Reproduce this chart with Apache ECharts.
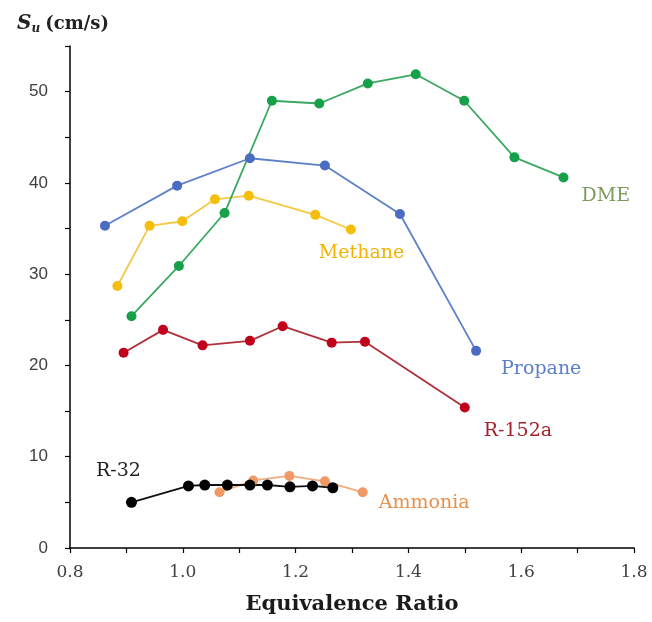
<!DOCTYPE html>
<html>
<head>
<meta charset="utf-8">
<script src="https://cdn.jsdelivr.net/npm/echarts@6/dist/echarts.min.js"></script>
<style>html,body{margin:0;padding:0;background:#fff}#c{width:652px;height:622px}</style>
</head>
<body>
<div id="c"></div>
<script>
// ---- data ----
const seriesNames = ['Methane', 'Propane', 'R-152a', 'Ammonia', 'R-32', 'DME'];
const methane = [[0.884,28.7],[0.941,35.3],[0.999,35.8],[1.057,38.2],[1.117,38.6],[1.235,36.5],[1.298,34.9]];
const propane = [[0.862,35.3],[0.990,39.7],[1.119,42.7],[1.252,41.9],[1.385,36.6],[1.520,21.6]];
const r152a = [[0.895,21.4],[0.965,23.9],[1.035,22.2],[1.119,22.7],[1.177,24.3],[1.264,22.5],[1.323,22.6],[1.500,15.4]];
const ammonia = [[1.065,6.1],[1.125,7.4],[1.189,7.9],[1.252,7.3],[1.319,6.1]];
const r32 = [[0.909,5.0],[1.010,6.8],[1.039,6.9],[1.079,6.9],[1.119,6.9],[1.150,6.9],[1.190,6.7],[1.230,6.8],[1.266,6.6]];
const dme = [[0.909,25.4],[0.993,30.9],[1.074,36.7],[1.158,49.0],[1.242,48.7],[1.328,50.9],[1.413,51.9],[1.499,49.0],[1.588,42.8],[1.675,40.6]];
const xTicks = [0.8, 1.0, 1.2, 1.4, 1.6, 1.8];
const yTicks = [0, 10, 20, 30, 40, 50];

// ---- styling ----
const styles = {
  'Methane': {data: methane, line:'#f6c843', mark:'#f5be0b', text:'#f0b400', labelIdx: methane.length-1, off:[-37,24], size:10},
  'Propane': {data: propane, line:'#5d80c8', mark:'#4a6cc2', text:'#5b7fc7', labelIdx: propane.length-1, off:[20,18], size:10},
  'R-152a': {data: r152a, line:'#b0303a', mark:'#c1001c', text:'#a3202c', labelIdx: r152a.length-1, off:[14,24], size:10},
  'Ammonia': {data: ammonia, line:'#f2ac7e', mark:'#ef9a66', text:'#e8904a', labelIdx: ammonia.length-1, off:[11,11], size:10},
  'R-32': {data: r32, line:'#111', mark:'#000', text:'#222', labelIdx: 0, off:[-41,-31], size:11},
  'DME': {data: dme, line:'#3aa860', mark:'#16a04a', text:'#7c9a5c', labelIdx: dme.length-1, off:[13,19], size:10}
};

const serif = '"DejaVu Serif", "Liberation Serif", serif';
const series = seriesNames.map(name => {
  const s = styles[name];
  return {
    name: name,
    type: 'line',
    data: s.data.map((p, i) => i === s.labelIdx ? {
      value: p,
      label: {show: true, formatter: name, position: 'right', distance: 0, offset: s.off,
        color: s.text, fontFamily: serif, fontSize: 19, align: 'left', verticalAlign: 'middle'}
    } : {value: p}),
    symbol: 'circle',
    symbolSize: s.size,
    lineStyle: {color: s.line, width: 1.8},
    itemStyle: {color: s.mark},
    label: {show: false},
    emphasis: {disabled: true},
    animation: false,
    z: 2
  };
});

const chart = echarts.init(document.getElementById('c'), null, {renderer: 'canvas'});
chart.setOption({
  backgroundColor: '#fff',
  animation: false,
  title: {
    text: '{s|S}{u|u} {t|(cm/s)}',
    left: 12, top: 8,
    textStyle: {
      rich: {
        s: {fontFamily: serif, fontStyle: 'italic', fontWeight: 'bold', fontSize: 20, color: '#222'},
        u: {fontFamily: serif, fontStyle: 'italic', fontWeight: 'bold', fontSize: 12, color: '#222', verticalAlign: 'bottom', padding: [10, 0, 0, 0]},
        t: {fontFamily: serif, fontWeight: 'bold', fontSize: 18, color: '#222'}
      }
    }
  },
  grid: {left: 70, right: 18, top: 46, bottom: 74, containLabel: false},
  xAxis: {
    type: 'value', min: 0.8, max: 1.8, interval: 0.1,
    name: 'Equivalence Ratio', nameLocation: 'middle', nameGap: 46,
    nameTextStyle: {fontFamily: serif, fontWeight: 'bold', fontSize: 21, color: '#1a1a1a'},
    axisLine: {show: true, onZero: false, lineStyle: {color: '#000', width: 1.5}},
    axisTick: {show: true, inside: false, length: 5, lineStyle: {color: '#000', width: 1.2}},
    axisLabel: {
      margin: 16, fontFamily: serif, fontSize: 17, color: '#404040',
      formatter: v => { const r = Math.round(v * 10) / 10; return xTicks.some(t => Math.abs(t - r) < 1e-6) ? r.toFixed(1) : ''; }
    },
    splitLine: {show: false}
  },
  yAxis: {
    type: 'value', min: 0, max: 55, interval: 5,
    axisLine: {show: true, onZero: false, lineStyle: {color: '#000', width: 1.5}},
    axisTick: {show: true, inside: false, length: 5, lineStyle: {color: '#000', width: 1.2}},
    axisLabel: {
      margin: 22, fontFamily: '"Liberation Sans", "Noto Sans", sans-serif', fontSize: 17, color: '#404040',
      formatter: v => yTicks.indexOf(Math.round(v)) >= 0 ? String(Math.round(v)) : ''
    },
    splitLine: {show: false}
  },
  series: series
});
</script>
</body>
</html>
